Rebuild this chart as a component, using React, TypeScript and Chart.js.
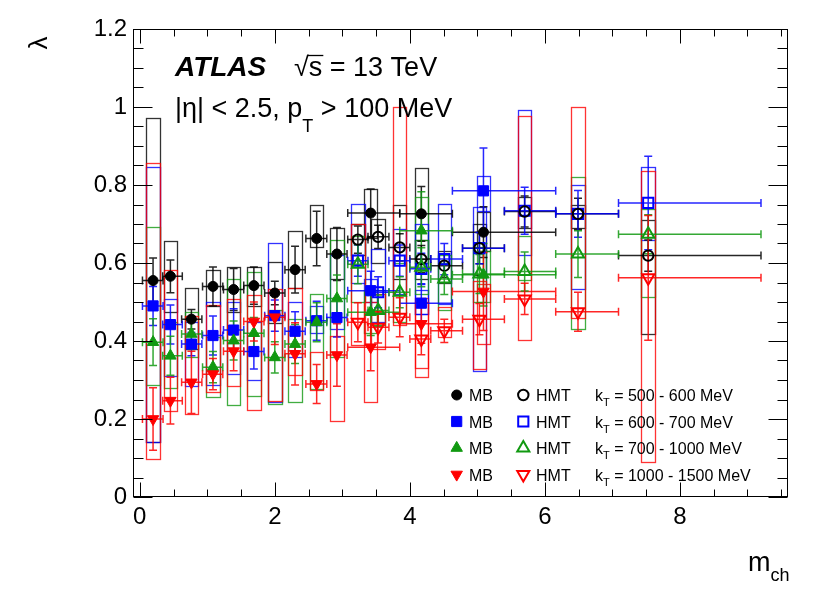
import React, { useEffect, useRef } from "react";
import { Chart, registerables } from "chart.js";

Chart.register(...registerables);

const FONT = "'Liberation Sans', Arial, Helvetica, sans-serif";
const BLACK = "#000000";
const BLUE = "#0000ff";
const GREEN = "#119911";
const RED = "#ff0000";

const X_MIN = -0.1;
const X_MAX = 9.6;
const Y_MIN = 0;
const Y_MAX = 1.2;
const xTickValues = [0, 2, 4, 6, 8];
const yTickValues = [0, 0.2, 0.4, 0.6, 0.8, 1.0, 1.2];
const BOX_HALF = 0.1;

// ---------- MB (minimum bias) ----------
const mbX = [0.197, 0.454, 0.765, 1.084, 1.39, 1.69, 2.0, 2.3, 2.62, 2.92, 3.42, 4.17, 5.09];
const mbXLo = [0.04, 0.34, 0.62, 0.93, 1.24, 1.54, 1.85, 2.15, 2.46, 2.77, 3.08, 3.85, 4.63];
const mbXHi = [0.345, 0.63, 0.92, 1.23, 1.54, 1.84, 2.15, 2.45, 2.77, 3.07, 3.85, 4.63, 6.16];

// kT = 500 - 600 MeV
const mbK1Y = [0.555, 0.566, 0.456, 0.54, 0.532, 0.542, 0.523, 0.583, 0.663, 0.623, 0.728, 0.726, 0.679];
const mbK1Stat = [0.058, 0.042, 0.025, 0.05, 0.054, 0.048, 0.03, 0.06, 0.07, 0.068, 0.062, 0.07, 0.065];
const mbK1BoxLo = [0.14, 0.475, 0.38, 0.49, 0.475, 0.49, 0.445, 0.535, 0.642, 0.56, 0.665, 0.61, 0.63];
const mbK1BoxHi = [0.971, 0.657, 0.535, 0.583, 0.589, 0.59, 0.603, 0.683, 0.75, 0.69, 0.79, 0.843, 0.73];

// kT = 600 - 700 MeV
const mbK2Y = [0.49, 0.442, 0.392, 0.414, 0.428, 0.373, 0.465, 0.425, 0.452, 0.46, 0.529, 0.497, 0.785];
const mbK2Stat = [0.05, 0.05, 0.03, 0.05, 0.055, 0.045, 0.04, 0.05, 0.05, 0.05, 0.05, 0.05, 0.11];
const mbK2BoxLo = [0.14, 0.309, 0.285, 0.288, 0.315, 0.3, 0.243, 0.36, 0.42, 0.43, 0.5, 0.47, 0.733];
const mbK2BoxHi = [0.845, 0.508, 0.45, 0.5, 0.5, 0.45, 0.651, 0.5, 0.49, 0.62, 0.56, 0.53, 0.823];

// kT = 700 - 1000 MeV
const mbK3Y = [0.397, 0.362, 0.418, 0.333, 0.401, 0.42, 0.358, 0.392, 0.448, 0.509, 0.474, 0.683, 0.57];
const mbK3Stat = [0.06, 0.05, 0.04, 0.04, 0.05, 0.04, 0.04, 0.05, 0.05, 0.06, 0.06, 0.1, 0.08];
const mbK3BoxLo = [0.288, 0.28, 0.36, 0.256, 0.236, 0.26, 0.238, 0.243, 0.277, 0.36, 0.42, 0.6, 0.5];
const mbK3BoxHi = [0.693, 0.45, 0.474, 0.41, 0.56, 0.576, 0.48, 0.456, 0.52, 0.66, 0.53, 0.77, 0.63];

// kT = 1000 - 1500 MeV
const mbK4Y = [0.2, 0.247, 0.294, 0.315, 0.374, 0.45, 0.461, 0.367, 0.29, 0.364, 0.384, 0.444, 0.527];
const mbK4Stat = [0.08, 0.06, 0.08, 0.04, 0.05, 0.05, 0.07, 0.08, 0.05, 0.08, 0.06, 0.05, 0.1];
const mbK4BoxLo = [0.097, 0.22, 0.213, 0.27, 0.285, 0.224, 0.247, 0.313, 0.275, 0.196, 0.244, 0.33, 0.392];
const mbK4BoxHi = [0.856, 0.583, 0.465, 0.492, 0.508, 0.518, 0.533, 0.535, 0.371, 0.414, 0.5, 0.51, 0.546];

// ---------- HMT (high multiplicity trigger) ----------
const hmtX = [3.23, 3.53, 3.85, 4.17, 4.51, 5.03, 5.7, 6.49, 7.53];
const hmtXLo = [3.08, 3.38, 3.69, 4.0, 4.31, 4.78, 5.4, 6.16, 7.09];
const hmtXHi = [3.38, 3.69, 4.0, 4.31, 4.78, 5.4, 6.16, 7.09, 9.2];

const hmtK1Y = [0.66, 0.667, 0.64, 0.61, 0.593, 0.638, 0.732, 0.726, 0.619];
const hmtK1Stat = [0.035, 0.03, 0.035, 0.035, 0.03, 0.04, 0.04, 0.04, 0.04];
const hmtK1BoxLo = [0.62, 0.6, 0.56, 0.56, 0.55, 0.57, 0.69, 0.69, 0.418];
const hmtK1BoxHi = [0.7, 0.713, 0.749, 0.66, 0.63, 0.7, 0.77, 0.75, 0.709];

const hmtK2Y = [0.606, 0.525, 0.606, 0.585, 0.61, 0.638, 0.734, 0.726, 0.754];
const hmtK2Stat = [0.04, 0.04, 0.04, 0.04, 0.04, 0.04, 0.06, 0.06, 0.12];
const hmtK2BoxLo = [0.55, 0.45, 0.52, 0.47, 0.495, 0.324, 0.62, 0.533, 0.66];
const hmtK2BoxHi = [0.751, 0.636, 0.687, 0.7, 0.751, 0.743, 0.993, 0.8, 0.845];

const hmtK3Y = [0.597, 0.478, 0.525, 0.589, 0.559, 0.572, 0.578, 0.623, 0.674];
const hmtK3Stat = [0.05, 0.04, 0.04, 0.05, 0.04, 0.05, 0.05, 0.06, 0.05];
const hmtK3BoxLo = [0.5, 0.44, 0.45, 0.52, 0.48, 0.5, 0.556, 0.431, 0.512];
const hmtK3BoxHi = [0.67, 0.53, 0.6, 0.66, 0.62, 0.64, 0.668, 0.82, 0.738];

const hmtK4Y = [0.448, 0.435, 0.461, 0.405, 0.426, 0.456, 0.508, 0.475, 0.562];
const hmtK4Stat = [0.05, 0.04, 0.05, 0.04, 0.03, 0.04, 0.04, 0.05, 0.16];
const hmtK4BoxLo = [0.39, 0.38, 0.44, 0.307, 0.41, 0.328, 0.402, 0.458, 0.091];
const hmtK4BoxHi = [0.7, 0.52, 1.0, 0.5, 0.487, 0.555, 0.976, 1.0, 0.835];

const legendRanges = ["500 - 600 MeV", "600 - 700 MeV", "700 - 1000 MeV", "1000 - 1500 MeV"];

type Shape = "circle" | "rect" | "triangle";
type Series = {
  x: number[]; xLo: number[]; xHi: number[]; y: number[]; stat: number[];
  boxLo: number[]; boxHi: number[]; color: string; shape: Shape; down: boolean; open: boolean; order: number;
};

const mk = (x: number[], xLo: number[], xHi: number[], y: number[], stat: number[], boxLo: number[], boxHi: number[],
  color: string, shape: Shape, down: boolean, open: boolean, order: number): Series =>
  ({ x, xLo, xHi, y, stat, boxLo, boxHi, color, shape, down, open, order });

const SERIES: Series[] = [
  mk(mbX, mbXLo, mbXHi, mbK1Y, mbK1Stat, mbK1BoxLo, mbK1BoxHi, BLACK, "circle", false, false, 2),
  mk(mbX, mbXLo, mbXHi, mbK2Y, mbK2Stat, mbK2BoxLo, mbK2BoxHi, BLUE, "rect", false, false, 3),
  mk(mbX, mbXLo, mbXHi, mbK3Y, mbK3Stat, mbK3BoxLo, mbK3BoxHi, GREEN, "triangle", false, false, 1),
  mk(mbX, mbXLo, mbXHi, mbK4Y, mbK4Stat, mbK4BoxLo, mbK4BoxHi, RED, "triangle", true, false, 0),
  mk(hmtX, hmtXLo, hmtXHi, hmtK1Y, hmtK1Stat, hmtK1BoxLo, hmtK1BoxHi, BLACK, "circle", false, true, 2),
  mk(hmtX, hmtXLo, hmtXHi, hmtK2Y, hmtK2Stat, hmtK2BoxLo, hmtK2BoxHi, BLUE, "rect", false, true, 3),
  mk(hmtX, hmtXLo, hmtXHi, hmtK3Y, hmtK3Stat, hmtK3BoxLo, hmtK3BoxHi, GREEN, "triangle", false, true, 1),
  mk(hmtX, hmtXLo, hmtXHi, hmtK4Y, hmtK4Stat, hmtK4BoxLo, hmtK4BoxHi, RED, "triangle", true, true, 0),
];

function radiusOf(shape: Shape, open: boolean) {
  if (shape === "circle") return open ? 5.2 : 5;
  if (shape === "rect") return 7.2;
  return open ? 7 : 6.6;
}

function alpha(c: string, a: number) {
  const r = parseInt(c.slice(1, 3), 16), g = parseInt(c.slice(3, 5), 16), b = parseInt(c.slice(5, 7), 16);
  return `rgba(${r},${g},${b},${a})`;
}

function drawMarker(ctx: CanvasRenderingContext2D, shape: Shape, down: boolean, open: boolean, color: string, x: number, y: number) {
  const r = radiusOf(shape, open);
  ctx.save();
  ctx.beginPath();
  if (shape === "circle") ctx.arc(x, y, r, 0, Math.PI * 2);
  else if (shape === "rect") {
    const h = r * Math.SQRT1_2;
    ctx.rect(x - h, y - h, 2 * h, 2 * h);
  } else {
    const base = down ? Math.PI : 0;
    for (let k = 0; k < 3; k++) {
      const a = base + (k * 2 * Math.PI) / 3;
      const px = x + Math.sin(a) * r, py = y - Math.cos(a) * r;
      if (k === 0) ctx.moveTo(px, py); else ctx.lineTo(px, py);
    }
    ctx.closePath();
  }
  if (!open) { ctx.fillStyle = color; ctx.fill(); }
  ctx.strokeStyle = color;
  ctx.lineWidth = open ? 2 : 1;
  ctx.stroke();
  ctx.restore();
}

type Part = { t: string; size: number; dy?: number; style?: string };
function drawParts(ctx: CanvasRenderingContext2D, parts: Part[], x: number, y: number) {
  let cx = x;
  for (const p of parts) {
    ctx.font = `${p.style ?? ""} ${p.size}px ${FONT}`;
    ctx.fillText(p.t, cx, y + (p.dy ?? 0));
    cx += ctx.measureText(p.t).width;
  }
  return cx;
}

const atlasPlugin = {
  id: "atlasDecor",
  beforeDatasetsDraw(chart: any) {
    const { ctx, chartArea: ca } = chart;
    const xs = chart.scales.x, ys = chart.scales.y;
    ctx.save();
    ctx.beginPath();
    ctx.rect(ca.left, ca.top, ca.right - ca.left, ca.bottom - ca.top);
    ctx.clip();
    // systematic boxes
    for (const s of SERIES) {
      ctx.strokeStyle = alpha(s.color, 0.8);
      ctx.lineWidth = 1.3;
      s.x.forEach((xv, i) => {
        const l = Math.round(xs.getPixelForValue(xv - BOX_HALF)) + 0.5;
        const r = Math.round(xs.getPixelForValue(xv + BOX_HALF)) + 0.5;
        const t = Math.round(ys.getPixelForValue(s.boxHi[i])) + 0.5;
        const b = Math.round(ys.getPixelForValue(s.boxLo[i])) + 0.5;
        ctx.strokeRect(l, t, r - l, b - t);
      });
    }
    // error bars
    const cap = 4;
    for (const s of SERIES) {
      ctx.strokeStyle = alpha(s.color, 0.85);
      ctx.lineWidth = 1.5;
      s.x.forEach((xv, i) => {
        const px = xs.getPixelForValue(xv), py = ys.getPixelForValue(s.y[i]);
        const xl = xs.getPixelForValue(s.xLo[i]), xh = xs.getPixelForValue(s.xHi[i]);
        const yt = ys.getPixelForValue(s.y[i] + s.stat[i]), yb = ys.getPixelForValue(s.y[i] - s.stat[i]);
        ctx.beginPath();
        ctx.moveTo(xl, py); ctx.lineTo(xh, py);
        ctx.moveTo(xl, py - cap); ctx.lineTo(xl, py + cap);
        ctx.moveTo(xh, py - cap); ctx.lineTo(xh, py + cap);
        ctx.moveTo(px, yt); ctx.lineTo(px, yb);
        ctx.moveTo(px - cap, yt); ctx.lineTo(px + cap, yt);
        ctx.moveTo(px - cap, yb); ctx.lineTo(px + cap, yb);
        ctx.stroke();
      });
    }
    ctx.restore();
  },
  afterDraw(chart: any) {
    const { ctx, chartArea: ca } = chart;
    const xs = chart.scales.x, ys = chart.scales.y;
    ctx.save();
    // frame
    ctx.strokeStyle = "#000";
    ctx.lineWidth = 1;
    const L = Math.round(ca.left) + 0.5, R = Math.round(ca.right) - 0.5;
    const T = Math.round(ca.top) + 0.5, B = Math.round(ca.bottom) - 0.5;
    ctx.strokeRect(L, T, R - L, B - T);
    ctx.beginPath();
    // y ticks
    for (let k = 0; k <= 24; k++) {
      const v = k * 0.05;
      const py = Math.round(ys.getPixelForValue(v)) + 0.5;
      const len = k % 4 === 0 ? 19 : 10;
      ctx.moveTo(L, py); ctx.lineTo(L + len, py);
      ctx.moveTo(R, py); ctx.lineTo(R - len, py);
    }
    // x ticks
    for (let k = 0; k <= 19; k++) {
      const v = k * 0.5;
      const px = Math.round(xs.getPixelForValue(v)) + 0.5;
      const len = k % 4 === 0 ? 14 : 7;
      ctx.moveTo(px, B); ctx.lineTo(px, B - len);
      ctx.moveTo(px, T); ctx.lineTo(px, T + len);
    }
    ctx.stroke();

    ctx.fillStyle = "#000";
    ctx.textBaseline = "alphabetic";
    ctx.textAlign = "left";
    // header
    drawParts(ctx, [{ t: "ATLAS", size: 28, style: "italic bold" }], 175, 76);
    const sx = 294;
    ctx.font = `27px ${FONT}`;
    ctx.fillText("\u221A", sx, 76);
    const sqw = ctx.measureText("\u221A").width;
    ctx.fillText("s", sx + sqw, 76);
    const swid = ctx.measureText("s").width;
    ctx.beginPath();
    ctx.lineWidth = 1.3;
    ctx.moveTo(sx + sqw - 1, 55.5); ctx.lineTo(sx + sqw + swid + 1, 55.5);
    ctx.stroke();
    ctx.fillText(" = 13 TeV", sx + sqw + swid, 76);

    drawParts(ctx, [
      { t: "|\u03B7| < 2.5, p", size: 27 },
      { t: "T", size: 18, dy: 15 },
      { t: " > 100 MeV", size: 27 },
    ], 175, 117);

    // axis titles
    ctx.save();
    ctx.translate(47, 43);
    ctx.rotate(-Math.PI / 2);
    ctx.font = `26px ${FONT}`;
    ctx.textAlign = "center";
    ctx.fillText("\u03BB", 0, 0);
    ctx.restore();
    drawParts(ctx, [{ t: "m", size: 27 }, { t: "ch", size: 18, dy: 10 }], 748, 571);

    // legend
    const rows = [395, 421.5, 448, 474.5];
    const order: [Shape, boolean, string][] = [
      ["circle", false, BLACK], ["rect", false, BLUE], ["triangle", false, GREEN], ["triangle", true, RED],
    ];
    rows.forEach((ry, i) => {
      const [shape, down, color] = order[i];
      drawMarker(ctx, shape, down, false, color, 456.7, ry);
      drawMarker(ctx, shape, down, true, color, 523.3, ry);
      ctx.fillStyle = "#000";
      drawParts(ctx, [{ t: "MB", size: 16 }], 469, ry + 6);
      drawParts(ctx, [{ t: "HMT", size: 16 }], 536, ry + 6);
      drawParts(ctx, [
        { t: "k", size: 16 },
        { t: "T", size: 11, dy: 5 },
        { t: " = " + legendRanges[i], size: 16 },
      ], 595, ry + 6);
    });
    ctx.restore();
  },
};

export default function App() {
  const ref = useRef<HTMLCanvasElement | null>(null);
  useEffect(() => {
    if (!ref.current) return;
    const chart = new Chart(ref.current, {
      type: "scatter",
      data: {
        datasets: SERIES.map((s) => ({
          data: s.x.map((x, i) => ({ x, y: s.y[i] })),
          pointStyle: s.shape,
          pointRotation: s.down ? 180 : 0,
          pointRadius: radiusOf(s.shape, s.open),
          pointHoverRadius: radiusOf(s.shape, s.open),
          pointBackgroundColor: s.open ? "rgba(255,255,255,0)" : s.color,
          pointBorderColor: s.color,
          pointBorderWidth: s.open ? 2 : 1,
          showLine: false,
          order: s.order,
        })),
      },
      options: {
        animation: false,
        responsive: false,
        events: [],
        layout: { padding: { top: 29, right: 42, left: 0, bottom: 0 } },
        plugins: { legend: { display: false }, tooltip: { enabled: false }, title: { display: false } },
        scales: {
          x: {
            type: "linear",
            min: X_MIN,
            max: X_MAX,
            afterBuildTicks: (s: any) => { s.ticks = xTickValues.map((v) => ({ value: v })); },
            afterFit: (s: any) => { s.height = 99; },
            ticks: {
              color: "#000",
              font: { family: FONT, size: 24 },
              padding: 6,
              maxRotation: 0,
              autoSkip: false,
              callback: (v: any) => String(Number(Number(v).toFixed(1))),
            },
            grid: { display: false, drawTicks: false },
            border: { display: false },
          },
          y: {
            type: "linear",
            min: Y_MIN,
            max: Y_MAX,
            afterBuildTicks: (s: any) => { s.ticks = yTickValues.map((v) => ({ value: v })); },
            afterFit: (s: any) => { s.width = 133; },
            ticks: {
              color: "#000",
              font: { family: FONT, size: 24 },
              padding: 6,
              autoSkip: false,
              callback: (v: any) => String(Number(Number(v).toFixed(1))),
            },
            grid: { display: false, drawTicks: false },
            border: { display: false },
          },
        },
      },
      plugins: [atlasPlugin],
    } as any);
    return () => chart.destroy();
  }, []);
  return (
    <div style={{ position: "fixed", left: 0, top: 0, width: 830, height: 596, background: "#fff" }}>
      <canvas ref={ref} width={830} height={596} style={{ width: 830, height: 596, display: "block" }} />
    </div>
  );
}
